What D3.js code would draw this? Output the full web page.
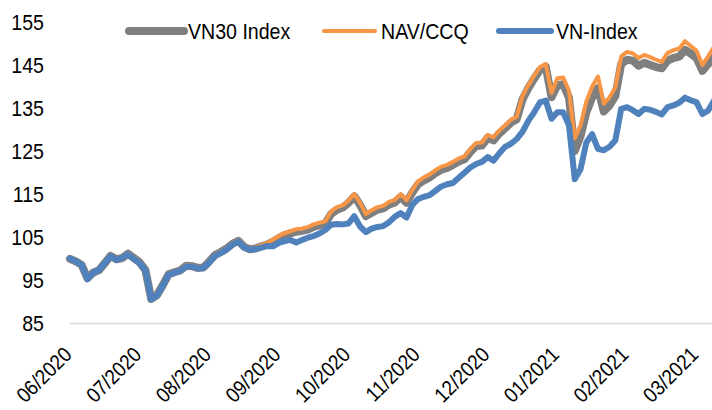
<!DOCTYPE html>
<html><head><meta charset="utf-8">
<script src="https://cdn.jsdelivr.net/npm/d3@7"></script>
<style>html,body{margin:0;padding:0;background:#fff;}svg{display:block;}</style>
</head><body>
<svg id="c" width="712" height="410"></svg>
<script>
const tickLabels = ["06/2020","07/2020","08/2020","09/2020","10/2020","11/2020","12/2020","01/2021","02/2021","03/2021"];
const yTicks = [85,95,105,115,125,135,145,155];
const seriesNames = ["VN30 Index","NAV/CCQ","VN-Index"];
const vn30 = [100.0,99.4,98.6,95.5,96.8,97.4,99.0,100.7,99.9,100.2,101.2,100.2,99.2,97.4,90.7,91.6,93.9,96.4,96.9,97.3,
98.4,98.3,97.9,98.0,99.4,100.9,101.6,102.4,103.5,104.2,102.8,102.2,102.4,102.9,103.3,104.0,104.8,105.5,105.9,106.3,
106.5,106.8,107.4,107.8,108.2,110.4,111.4,111.9,113.0,114.5,112.5,109.9,110.7,111.4,111.7,112.6,113.1,114.4,113.0,115.4,
117.3,118.2,118.9,119.9,120.7,121.1,121.8,122.6,123.1,124.8,126.2,126.3,128.1,127.5,129.1,130.3,131.6,132.4,137.0,139.6,
141.8,143.8,144.6,137.5,140.3,140.5,137.4,125.0,128.5,134.0,137.5,139.6,134.2,135.6,137.8,145.2,146.2,146.0,144.8,145.5,
145.0,144.5,144.2,146.0,146.6,146.9,148.5,147.6,146.6,143.6,145.2,147.0];
const nav = [100.1,99.5,98.7,95.6,96.9,97.5,99.1,100.8,100.0,100.4,101.4,100.3,99.3,97.5,90.8,91.7,94.0,96.5,97.0,97.4,
98.5,98.4,98.0,98.1,99.5,101.0,101.7,102.5,103.6,104.3,103.0,102.3,102.6,103.2,103.7,104.5,105.3,106.0,106.4,106.9,
107.0,107.4,108.0,108.4,108.7,111.0,112.0,112.4,113.5,115.0,113.0,110.4,111.3,112.0,112.3,113.2,113.7,115.0,113.6,116.0,
118.0,118.9,119.6,120.6,121.4,121.8,122.5,123.3,123.8,125.5,126.9,127.0,128.8,128.2,129.8,131.0,132.3,133.0,137.8,140.3,
142.5,144.5,145.2,138.5,141.9,142.1,139.0,128.0,131.0,136.5,140.0,142.3,136.0,137.5,139.8,147.0,148.0,147.7,146.6,147.3,
146.8,146.2,145.7,147.8,148.4,148.8,150.5,149.4,148.3,145.0,147.0,149.2];
const vnIndex = [100.1,99.4,98.6,95.3,96.8,97.4,99.0,100.6,99.8,100.2,101.1,100.0,99.0,97.3,90.6,91.5,93.8,96.3,96.8,97.2,
98.2,98.2,97.8,97.9,99.2,100.7,101.4,102.2,103.3,104.0,102.7,102.1,102.3,102.6,103.0,102.9,103.7,104.1,104.4,103.8,
104.4,104.9,105.3,105.9,106.7,107.9,108.1,108.0,108.2,109.9,107.5,106.2,107.0,107.4,107.6,108.5,109.8,110.6,109.6,112.5,
113.9,114.4,114.8,115.8,116.8,117.3,117.6,118.8,120.0,121.2,122.0,122.5,123.6,122.8,124.5,126.0,126.7,127.8,129.5,132.0,
134.0,136.3,136.7,132.5,134.0,134.0,131.0,118.5,120.8,127.0,128.9,125.5,125.2,126.0,127.5,134.8,135.2,134.5,133.6,134.8,
134.6,134.1,133.5,135.2,135.6,136.2,137.4,136.8,136.3,133.6,134.4,136.7];
const colors = ["#7f7f7f","#f79646","#4f81bd"];
const widths = [8,4,6];
const perMonth = 12;

const svg = d3.select("#c");
const font = "'Liberation Sans',Arial,sans-serif";
const sx = 0.89;
const x = d3.scaleLinear().domain([0, vnIndex.length - 1]).range([70, 714]);
const y = d3.scaleLinear().domain([85, 155]).range([323.5, 21.8]);

// axis line
svg.append("line").attr("x1",70).attr("x2",712).attr("y1",y(85)).attr("y2",y(85))
  .attr("stroke","#d9d9d9").attr("stroke-width",1.5);

// y labels
svg.selectAll("text.yl").data(yTicks).enter().append("text")
  .attr("transform",d=>`translate(44,${y(d)}) scale(${sx},1)`).attr("dy","0.35em").attr("text-anchor","end")
  .style("font-family",font).style("font-size","22px").attr("fill","#000").text(d=>d);

// x labels
tickLabels.forEach((t,i)=>{
  const px = x(i*perMonth);
  svg.append("text").attr("transform",`translate(${px+3},${356}) rotate(-45) scale(${sx},1)`)
    .attr("text-anchor","end").style("font-family",font).style("font-size","21px").attr("fill","#000").text(t);
});

svg.append("clipPath").attr("id","cp").append("rect").attr("x",0).attr("y",0).attr("width",712).attr("height",410);
const line = d3.line().x((d,i)=>x(i)).y(d=>y(d));
const g = svg.append("g").attr("clip-path","url(#cp)");
[vn30,nav,vnIndex].forEach((s,k)=>{
  g.append("path").datum(s).attr("d",line).attr("fill","none")
   .attr("stroke",colors[k]).attr("stroke-width",widths[k]).attr("stroke-linejoin","round").attr("stroke-linecap","round");
});

// legend
const legY = 31;
const legX = [129,324,499];
const legW = [55,51,52];
const legTX = [188,381,556];
seriesNames.forEach((n,k)=>{
  svg.append("line").attr("x1",legX[k]).attr("x2",legX[k]+legW[k]).attr("y1",legY).attr("y2",legY)
    .attr("stroke",colors[k]).attr("stroke-width",widths[k]).attr("stroke-linecap","round");
  svg.append("text").attr("transform",`translate(${legTX[k]},${legY}) scale(${sx},1)`).attr("dy","0.35em")
    .style("font-family",font).style("font-size","22px").attr("fill","#000").text(n);
});
</script>
</body></html>
